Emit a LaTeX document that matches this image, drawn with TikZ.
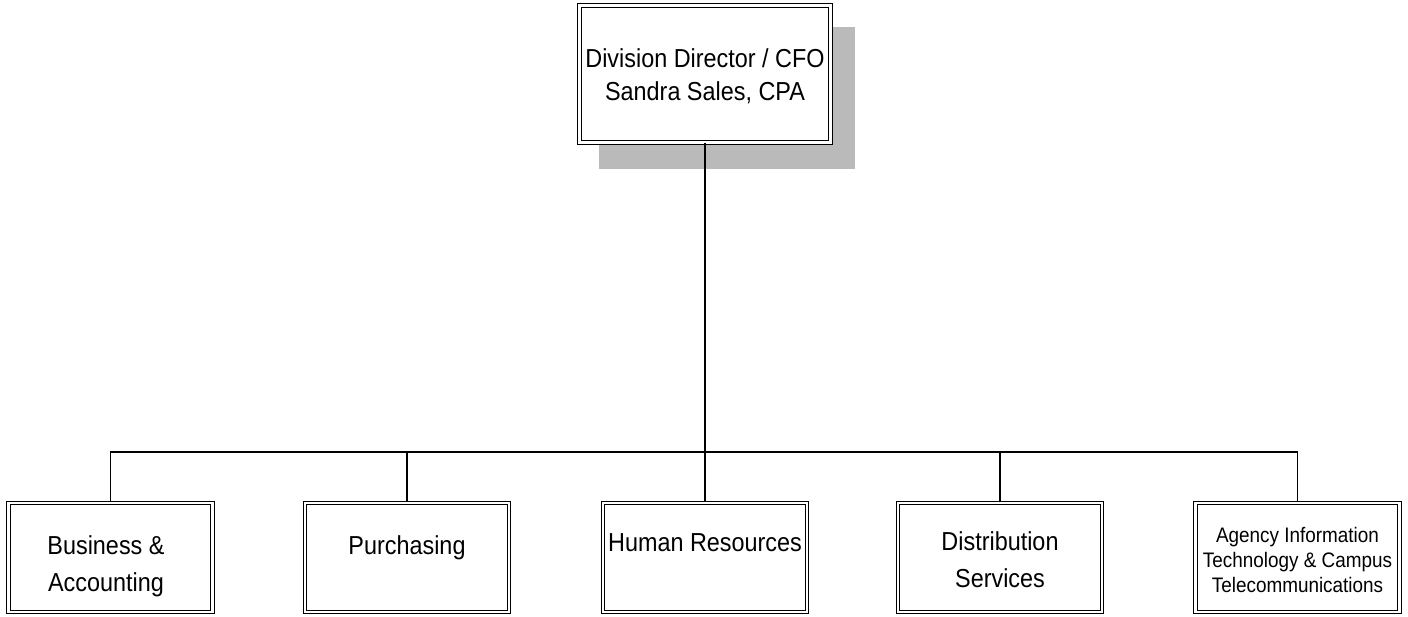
\documentclass[tikz,border=0pt]{standalone}
\usepackage{fontspec}
\setmainfont{Liberation Sans}
% slightly condensed face for the chart captions
\newfontfamily\chartfont[FakeStretch=0.9]{Liberation Sans}
\begin{document}
\begin{tikzpicture}[x=1pt,y=-1pt,
  unitbox/.style={draw, line width=1.2pt, double=white, double distance=2.2pt,
    minimum width=204pt, minimum height=109pt, inner sep=0pt, fill=white},
  topbox/.style={unitbox, minimum width=251pt, minimum height=137pt},
  caption/.style={align=center, font=\chartfont\fontsize{26}{37}\selectfont, inner sep=0pt, anchor=base},
  smallcaption/.style={caption, font=\chartfont\fontsize{21}{25}\selectfont},
  wire/.style={line width=1.3pt},
  shade/.style={fill=black!27, draw=none}]
\useasboundingbox (0,0) rectangle (1408,617);

% drop shadow behind the director box
\fill[shade] (599,27) rectangle (855,169);

% director box
\node[topbox] (dir) at (705,74) {};
\node[caption, font=\chartfont\fontsize{26}{33}\selectfont] (dirtext) at (705,101)
  {Division Director / CFO\\Sandra Sales, CPA};

% unit boxes
\node[unitbox] (ba) at (110.5,557.5) {};
\node[unitbox] (pu) at (407,557.5) {};
\node[unitbox] (hr) at (705,557.5) {};
\node[unitbox] (ds) at (1000,557.5) {};
\node[unitbox] (it) at (1297.5,557.5) {};

% captions, placed by the baseline of their last line
\node[caption] (batext) at (106,591) {Business \&\\Accounting};
\node[caption] (putext) at (407,554) {Purchasing};
\node[caption] (hrtext) at (705,551) {Human Resources};
\node[caption] (dstext) at (1000,587) {Distribution\\Services};
\node[smallcaption] (ittext) at (1297.5,592)
  {Agency Information\\Technology \& Campus\\Telecommunications};

% connectors
\coordinate (bus) at (705,452);
\draw[wire] (dir.south) -- (hr.north);
\draw[wire] (ba.north) |- (bus) -| (it.north);
\draw[wire] (pu.north) -- (pu.north |- bus);
\draw[wire] (ds.north) -- (ds.north |- bus);
\end{tikzpicture}
\end{document}
